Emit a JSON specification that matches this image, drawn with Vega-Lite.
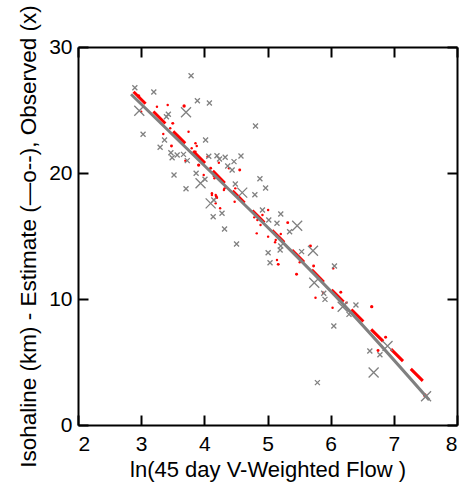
{
  "$schema": "https://vega.github.io/schema/vega-lite/v6.json",
  "width": 379,
  "height": 378,
  "autosize": "none",
  "padding": {"left": 78, "top": 47, "right": 7, "bottom": 64},
  "background": "white",
  "config": {
    "view": {"stroke": null},
    "font": "Liberation Sans",
    "axis": {
      "grid": false,
      "domainColor": "black",
      "domainWidth": 2,
      "tickColor": "black",
      "tickWidth": 2,
      "tickSize": -10,
      "labelFont": "Liberation Sans",
      "labelFontSize": 21,
      "labelColor": "black",
      "titleFont": "Liberation Sans",
      "titleFontSize": 22,
      "titleFontWeight": "normal",
      "titleColor": "black"
    }
  },
  "datasets": {
    "obs": [
      {"x": 3.79, "y": 27.72, "s": 1}, {"x": 2.90, "y": 26.77, "s": 1}, {"x": 3.20, "y": 26.43, "s": 1},
      {"x": 2.97, "y": 24.94, "s": 2}, {"x": 3.71, "y": 24.82, "s": 2}, {"x": 3.89, "y": 25.74, "s": 1},
      {"x": 4.08, "y": 25.56, "s": 1}, {"x": 3.43, "y": 24.66, "s": 1}, {"x": 3.40, "y": 24.47, "s": 1},
      {"x": 4.81, "y": 23.73, "s": 1}, {"x": 3.03, "y": 23.07, "s": 1}, {"x": 3.37, "y": 22.62, "s": 1},
      {"x": 3.30, "y": 22.04, "s": 1}, {"x": 4.02, "y": 22.62, "s": 1}, {"x": 3.47, "y": 21.61, "s": 1},
      {"x": 3.57, "y": 21.43, "s": 1}, {"x": 3.49, "y": 21.21, "s": 1}, {"x": 3.67, "y": 21.48, "s": 1},
      {"x": 3.73, "y": 20.98, "s": 1}, {"x": 4.07, "y": 21.33, "s": 1}, {"x": 4.20, "y": 21.37, "s": 1},
      {"x": 4.24, "y": 21.11, "s": 1}, {"x": 4.33, "y": 21.25, "s": 1}, {"x": 4.47, "y": 20.90, "s": 1},
      {"x": 4.58, "y": 21.35, "s": 1}, {"x": 4.37, "y": 20.56, "s": 1}, {"x": 4.44, "y": 20.24, "s": 1},
      {"x": 3.94, "y": 19.18, "s": 2}, {"x": 3.52, "y": 19.84, "s": 1}, {"x": 3.87, "y": 19.98, "s": 1},
      {"x": 4.01, "y": 19.50, "s": 1}, {"x": 3.71, "y": 18.75, "s": 1}, {"x": 4.49, "y": 19.13, "s": 1},
      {"x": 4.60, "y": 18.44, "s": 2}, {"x": 4.88, "y": 19.55, "s": 1}, {"x": 4.97, "y": 18.81, "s": 1},
      {"x": 4.80, "y": 18.28, "s": 1}, {"x": 4.10, "y": 17.59, "s": 2}, {"x": 4.15, "y": 17.86, "s": 1},
      {"x": 4.14, "y": 16.53, "s": 1}, {"x": 4.28, "y": 16.80, "s": 1}, {"x": 4.32, "y": 15.56, "s": 1},
      {"x": 4.51, "y": 14.37, "s": 1}, {"x": 4.92, "y": 17.06, "s": 1}, {"x": 5.02, "y": 16.27, "s": 1},
      {"x": 5.21, "y": 16.75, "s": 1}, {"x": 5.15, "y": 16.01, "s": 1}, {"x": 5.35, "y": 15.34, "s": 1},
      {"x": 5.47, "y": 15.82, "s": 2}, {"x": 5.01, "y": 13.67, "s": 1}, {"x": 5.04, "y": 12.88, "s": 1},
      {"x": 5.21, "y": 14.21, "s": 1}, {"x": 5.20, "y": 13.89, "s": 1}, {"x": 5.54, "y": 13.76, "s": 1},
      {"x": 5.72, "y": 13.83, "s": 2}, {"x": 5.74, "y": 11.29, "s": 2}, {"x": 6.06, "y": 12.62, "s": 1},
      {"x": 5.89, "y": 10.45, "s": 1}, {"x": 5.91, "y": 9.97, "s": 1}, {"x": 6.19, "y": 9.39, "s": 2},
      {"x": 6.40, "y": 9.52, "s": 1}, {"x": 6.29, "y": 8.78, "s": 1}, {"x": 6.05, "y": 7.86, "s": 1},
      {"x": 5.79, "y": 3.36, "s": 1}, {"x": 6.62, "y": 5.87, "s": 1}, {"x": 6.90, "y": 6.27, "s": 2},
      {"x": 6.78, "y": 5.58, "s": 1}, {"x": 6.68, "y": 4.17, "s": 2}, {"x": 7.51, "y": 2.28, "s": 2}
    ],
    "est": [
      {"x": 2.96, "y": 26.11, "s": 3}, {"x": 3.25, "y": 25.26, "s": 1}, {"x": 3.42, "y": 25.40, "s": 1},
      {"x": 3.68, "y": 25.32, "s": 3}, {"x": 3.50, "y": 23.94, "s": 2}, {"x": 3.46, "y": 23.55, "s": 1},
      {"x": 3.75, "y": 23.28, "s": 1}, {"x": 3.35, "y": 23.10, "s": 1}, {"x": 3.86, "y": 22.36, "s": 1},
      {"x": 3.88, "y": 22.14, "s": 1}, {"x": 3.48, "y": 22.14, "s": 2}, {"x": 3.80, "y": 21.96, "s": 1},
      {"x": 3.86, "y": 21.69, "s": 1}, {"x": 3.70, "y": 20.98, "s": 1}, {"x": 3.91, "y": 20.63, "s": 3},
      {"x": 4.10, "y": 20.37, "s": 2}, {"x": 4.05, "y": 21.29, "s": 1}, {"x": 4.23, "y": 20.82, "s": 1},
      {"x": 4.39, "y": 20.37, "s": 1}, {"x": 4.56, "y": 20.24, "s": 2}, {"x": 3.99, "y": 19.84, "s": 1},
      {"x": 4.32, "y": 18.78, "s": 1}, {"x": 4.12, "y": 18.25, "s": 1}, {"x": 4.18, "y": 18.25, "s": 1},
      {"x": 4.20, "y": 18.04, "s": 1}, {"x": 4.49, "y": 18.78, "s": 1}, {"x": 4.15, "y": 19.76, "s": 1},
      {"x": 4.16, "y": 19.58, "s": 1}, {"x": 4.12, "y": 18.39, "s": 1}, {"x": 4.31, "y": 18.65, "s": 1},
      {"x": 4.19, "y": 18.12, "s": 2}, {"x": 4.25, "y": 17.20, "s": 1}, {"x": 4.48, "y": 17.72, "s": 1},
      {"x": 4.18, "y": 17.59, "s": 1}, {"x": 5.01, "y": 17.06, "s": 1}, {"x": 4.92, "y": 16.67, "s": 1},
      {"x": 4.79, "y": 16.48, "s": 1}, {"x": 4.84, "y": 16.27, "s": 1}, {"x": 5.32, "y": 16.06, "s": 2},
      {"x": 4.89, "y": 15.87, "s": 1}, {"x": 4.83, "y": 15.21, "s": 1}, {"x": 5.01, "y": 14.95, "s": 1},
      {"x": 5.13, "y": 14.68, "s": 1}, {"x": 5.12, "y": 14.50, "s": 1}, {"x": 5.21, "y": 15.16, "s": 1},
      {"x": 5.15, "y": 13.10, "s": 1}, {"x": 5.17, "y": 12.75, "s": 2}, {"x": 5.51, "y": 12.91, "s": 1},
      {"x": 5.68, "y": 14.21, "s": 2}, {"x": 5.73, "y": 12.62, "s": 2}, {"x": 5.46, "y": 11.96, "s": 2},
      {"x": 6.04, "y": 12.43, "s": 1}, {"x": 5.76, "y": 10.10, "s": 1}, {"x": 6.16, "y": 10.53, "s": 2},
      {"x": 5.88, "y": 10.50, "s": 1}, {"x": 6.03, "y": 9.31, "s": 1}, {"x": 6.25, "y": 9.71, "s": 1},
      {"x": 6.65, "y": 9.39, "s": 3}, {"x": 6.87, "y": 6.96, "s": 2}, {"x": 6.75, "y": 5.92, "s": 2},
      {"x": 7.49, "y": 2.38, "s": 4}, {"x": 3.00, "y": 24.87, "s": 1}
    ],
    "estline": [{"x": 2.88, "y": 26.45}, {"x": 7.46, "y": 3.49}],
    "obsline": [
      {"x": 2.84, "y": 26.25}, {"x": 3.91, "y": 21.03}, {"x": 5.21, "y": 14.65},
      {"x": 6.16, "y": 9.79}, {"x": 7.56, "y": 1.98}
    ]
  },
  "layer": [
    {
      "data": {"name": "est"},
      "mark": {"type": "point", "shape": "circle", "filled": true, "color": "#ff0000", "opacity": 1},
      "encoding": {
        "x": {"field": "x", "type": "quantitative", "scale": {"domain": [2, 8], "nice": false, "zero": false},
              "axis": {"orient": "bottom", "values": [2, 3, 4, 5, 6, 7, 8], "labelPadding": 18,
                       "title": "ln(45 day V-Weighted Flow )", "titlePadding": 5}},
        "y": {"field": "y", "type": "quantitative", "scale": {"domain": [0, 30], "nice": false, "zero": false},
              "axis": {"orient": "left", "values": [0, 10, 20, 30], "labelPadding": 16,
                       "title": "Isohaline (km) - Estimate (—o--), Observed (x)", "titleFontSize": 22.5, "titlePadding": 8}},
        "size": {"field": "s", "type": "ordinal", "scale": {"domain": [1, 2, 3, 4], "range": [6, 14, 38, 80]}, "legend": null}
      }
    },
    {
      "data": {"name": "estline"},
      "mark": {"type": "line", "color": "#ff0000", "strokeWidth": 3, "strokeDash": [17, 11]},
      "encoding": {
        "x": {"field": "x", "type": "quantitative",
              "axis": {"orient": "top", "values": [2, 3, 4, 5, 6, 7, 8], "labels": false, "title": null}},
        "y": {"field": "y", "type": "quantitative",
              "axis": {"orient": "right", "values": [0, 10, 20, 30], "labels": false, "title": null}}
      }
    },
    {
      "data": {"name": "obsline"},
      "mark": {"type": "line", "color": "#808080", "strokeWidth": 3, "interpolate": "monotone"},
      "encoding": {
        "x": {"field": "x", "type": "quantitative", "axis": null},
        "y": {"field": "y", "type": "quantitative", "axis": null}
      }
    },
    {
      "data": {"name": "obs"},
      "mark": {"type": "point", "shape": "M-1,-1L1,1M-1,1L1,-1", "filled": false, "color": "#808080", "strokeWidth": 1.3, "opacity": 1},
      "encoding": {
        "x": {"field": "x", "type": "quantitative", "axis": null},
        "y": {"field": "y", "type": "quantitative", "axis": null},
        "size": {"field": "s", "type": "ordinal", "scale": {"domain": [1, 2], "range": [25, 100]}, "legend": null}
      }
    }
  ],
  "resolve": {"axis": {"x": "independent", "y": "independent"}, "scale": {"size": "independent"}}
}
